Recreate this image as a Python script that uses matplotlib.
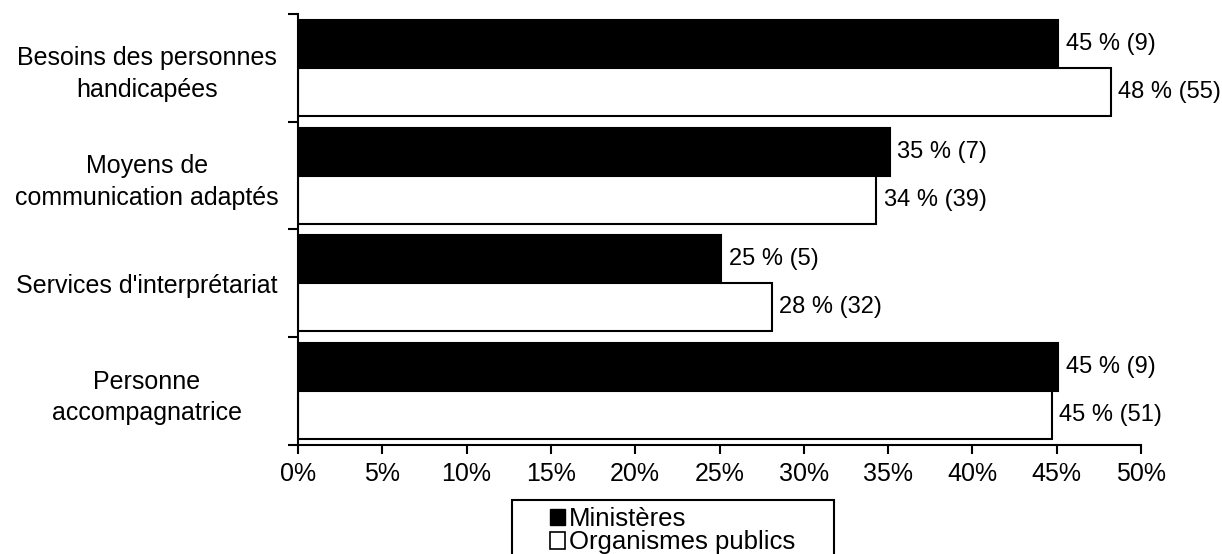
import numpy as np
import matplotlib.pyplot as plt
from matplotlib.patches import Rectangle, Patch

plt.rcParams['font.family'] = ['Liberation Sans', 'DejaVu Sans']

categories = ["Besoins des personnes\nhandicapées", "Moyens de\ncommunication adaptés",
              "Services d'interprétariat", "Personne\naccompagnatrice"]
ministeres = [45.1, 35.1, 25.1, 45.1]
organismes = [48.2, 34.3, 28.1, 44.7]
lab_min = ["45 % (9)", "35 % (7)", "25 % (5)", "45 % (9)"]
lab_org = ["48 % (55)", "34 % (39)", "28 % (32)", "45 % (51)"]
xticks = [0, 5, 10, 15, 20, 25, 30, 35, 40, 45, 50]

fig = plt.figure(figsize=(12.22, 5.54), dpi=100)
ax = fig.add_axes([298/1222, 0.1968, 843/1222, 0.7779])

y = np.arange(len(categories))
h = 0.445
b1 = ax.barh(y - h/2, ministeres, height=h, color='black', edgecolor='black', linewidth=1.5)
b2 = ax.barh(y + h/2, organismes, height=h, color='white', edgecolor='black', linewidth=1.5)

# etiquettes des valeurs
for bar, t in zip(b1, lab_min):
    ax.text(bar.get_width() + 0.45, bar.get_y() + bar.get_height()/2, t,
            va='center', ha='left', fontsize=17)
for bar, t in zip(b2, lab_org):
    ax.text(bar.get_width() + 0.45, bar.get_y() + bar.get_height()/2, t,
            va='center', ha='left', fontsize=17)

ax.set_xlim(0, 50)
ax.set_ylim(3.5, -0.5)
ax.set_xticks(xticks)
ax.set_xticklabels([f"{v}%" for v in xticks], fontsize=18)
ax.set_yticks(y)
ax.set_yticklabels(categories, fontsize=18, ha='center', linespacing=1.4)
ax.tick_params(axis='y', which='major', length=0, pad=109)
ax.set_yticks(np.arange(-0.5, 4.0, 1.0), minor=True)
ax.tick_params(axis='y', which='minor', length=7, width=1.5)
ax.tick_params(axis='x', length=6.5, width=1.5, pad=6)

for s in ['top', 'right']:
    ax.spines[s].set_visible(False)
for s in ['left', 'bottom']:
    ax.spines[s].set_linewidth(1.5)

# cadre de la legende
fig.patches.append(Rectangle((512/1222, -0.02), 322/1222, 1 - 500/554 + 0.02, transform=fig.transFigure,
                             fill=False, edgecolor='black', linewidth=1.5))
handles = [Patch(facecolor='black', edgecolor='black'),
           Patch(facecolor='white', edgecolor='black', linewidth=1.2)]
fig.legend(handles, ["Ministères", "Organismes publics"], loc='upper left',
           bbox_to_anchor=(550/1222, 1 - 507/554), frameon=False, fontsize=18.5,
           handlelength=0.6, handleheight=0.6, handletextpad=0.15, labelspacing=-0.02,
           borderpad=0, borderaxespad=0)

fig.savefig("out.png", dpi=100)
